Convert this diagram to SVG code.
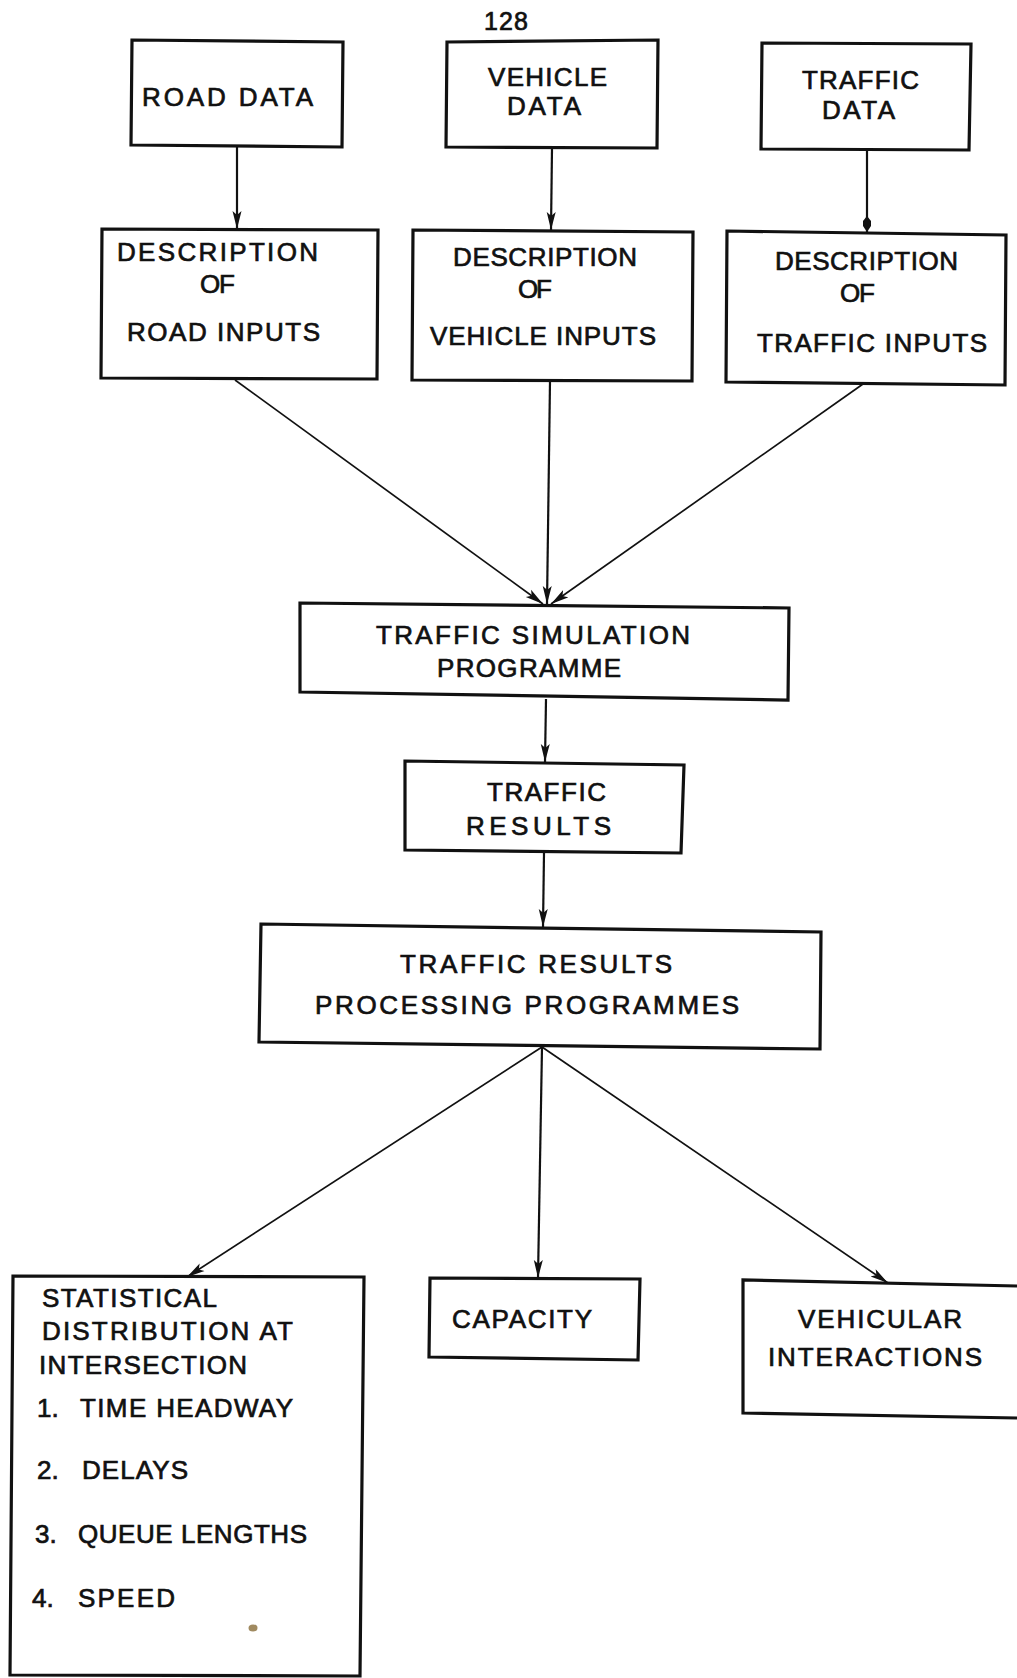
<svg xmlns="http://www.w3.org/2000/svg" width="1017" height="1678" viewBox="0 0 1017 1678">
  <defs>
    <style>
      .box { fill: none; stroke: #111; stroke-width: 3.2; stroke-linejoin: miter; }
      .lbl { font-family: "Liberation Sans", Arial, sans-serif; font-size: 26px; fill: #111; stroke: #111; stroke-width: 0.7; }
      .num { font-size: 25px; }
      .wire { fill: none; stroke: #111; stroke-width: 2.2; }
      .diag { fill: none; stroke: #111; stroke-width: 1.7; }
    </style>
    <marker id="arrow" markerUnits="userSpaceOnUse" markerWidth="20" markerHeight="12" refX="18" refY="5" orient="auto">
      <path d="M0,0.5 L18,5 L0,9.5 L4,5 z" fill="#111"/>
    </marker>
    <marker id="blob" markerUnits="userSpaceOnUse" markerWidth="18" markerHeight="12" refX="16" refY="5" orient="auto">
      <path d="M0,5 L5,1 L10,1 L16,5 L10,9 L5,9 z" fill="#111"/>
    </marker>
  </defs>
  <rect width="1017" height="1678" fill="#ffffff"/>

  <!-- page number -->
  <text class="lbl num" x="484" y="30" textLength="44" lengthAdjust="spacing">128</text>

  <!-- data sources -->
  <g id="road-data">
    <polygon class="box" points="132,40 343,42 342,147 131,145"/>
    <text class="lbl" x="142" y="106" textLength="171" lengthAdjust="spacing">ROAD DATA</text>
  </g>
  <g id="vehicle-data">
    <polygon class="box" points="447,42 658,40 657,148 446,147"/>
    <text class="lbl" x="488" y="86" textLength="119" lengthAdjust="spacing">VEHICLE</text>
    <text class="lbl" x="507" y="115" textLength="74" lengthAdjust="spacing">DATA</text>
  </g>
  <g id="traffic-data">
    <polygon class="box" points="762,43 971,44 969,150 761,149"/>
    <text class="lbl" x="802" y="89" textLength="117" lengthAdjust="spacing">TRAFFIC</text>
    <text class="lbl" x="822" y="119" textLength="73" lengthAdjust="spacing">DATA</text>
  </g>

  <!-- input descriptions -->
  <g id="road-inputs">
    <polygon class="box" points="102,229 378,230 377,379 101,378"/>
    <text class="lbl" x="117" y="261" textLength="201" lengthAdjust="spacing">DESCRIPTION</text>
    <text class="lbl" x="200" y="293" textLength="35" lengthAdjust="spacing">OF</text>
    <text class="lbl" x="127" y="341" textLength="193" lengthAdjust="spacing">ROAD INPUTS</text>
  </g>
  <g id="vehicle-inputs">
    <polygon class="box" points="413,230 693,232 692,381 412,380"/>
    <text class="lbl" x="453" y="266" textLength="184" lengthAdjust="spacing">DESCRIPTION</text>
    <text class="lbl" x="518" y="298" textLength="34" lengthAdjust="spacing">OF</text>
    <text class="lbl" x="430" y="345" textLength="226" lengthAdjust="spacing">VEHICLE INPUTS</text>
  </g>
  <g id="traffic-inputs">
    <polygon class="box" points="727,231 1006,235 1005,385 726,382"/>
    <text class="lbl" x="775" y="270" textLength="183" lengthAdjust="spacing">DESCRIPTION</text>
    <text class="lbl" x="840" y="302" textLength="35" lengthAdjust="spacing">OF</text>
    <text class="lbl" x="757" y="352" textLength="230" lengthAdjust="spacing">TRAFFIC INPUTS</text>
  </g>

  <!-- simulation and results -->
  <g id="simulation">
    <polygon class="box" points="300,603 789,608 788,700 300,692"/>
    <text class="lbl" x="376" y="644" textLength="314" lengthAdjust="spacing">TRAFFIC SIMULATION</text>
    <text class="lbl" x="437" y="677" textLength="184" lengthAdjust="spacing">PROGRAMME</text>
  </g>
  <g id="traffic-results">
    <polygon class="box" points="405,761 684,765 681,853 405,850"/>
    <text class="lbl" x="487" y="801" textLength="119" lengthAdjust="spacing">TRAFFIC</text>
    <text class="lbl" x="466" y="835" textLength="145" lengthAdjust="spacing">RESULTS</text>
  </g>
  <g id="processing">
    <polygon class="box" points="261,924 821,932 820,1049 259,1042"/>
    <text class="lbl" x="400" y="973" textLength="272" lengthAdjust="spacing">TRAFFIC RESULTS</text>
    <text class="lbl" x="315" y="1014" textLength="424" lengthAdjust="spacing">PROCESSING PROGRAMMES</text>
  </g>

  <!-- outputs -->
  <g id="statistics">
    <polygon class="box" points="13,1276 364,1277 360,1676 10,1675"/>
    <text class="lbl" x="42" y="1307" textLength="175" lengthAdjust="spacing">STATISTICAL</text>
    <text class="lbl" x="42" y="1340" textLength="251" lengthAdjust="spacing">DISTRIBUTION AT</text>
    <text class="lbl" x="39" y="1374" textLength="208" lengthAdjust="spacing">INTERSECTION</text>
    <text class="lbl" x="37" y="1417">1.</text>
    <text class="lbl" x="80" y="1417" textLength="213" lengthAdjust="spacing">TIME HEADWAY</text>
    <text class="lbl" x="37" y="1479">2.</text>
    <text class="lbl" x="82" y="1479" textLength="106" lengthAdjust="spacing">DELAYS</text>
    <text class="lbl" x="35" y="1543">3.</text>
    <text class="lbl" x="78" y="1543" textLength="229" lengthAdjust="spacing">QUEUE LENGTHS</text>
    <text class="lbl" x="32" y="1607">4.</text>
    <text class="lbl" x="78" y="1607" textLength="97" lengthAdjust="spacing">SPEED</text>
    <ellipse cx="253" cy="1628" rx="4.5" ry="3.5" fill="#a08a60"/>
  </g>
  <g id="capacity">
    <polygon class="box" points="430,1278 640,1279 638,1360 429,1357"/>
    <text class="lbl" x="452" y="1328" textLength="140" lengthAdjust="spacing">CAPACITY</text>
  </g>
  <g id="interactions">
    <path class="box" d="M1017,1286 L743,1280 L743,1413 L1017,1418"/>
    <text class="lbl" x="798" y="1328" textLength="164" lengthAdjust="spacing">VEHICULAR</text>
    <text class="lbl" x="768" y="1366" textLength="214" lengthAdjust="spacing">INTERACTIONS</text>
  </g>

  <!-- connectors -->
  <g id="connectors">
    <line class="wire" x1="237" y1="147" x2="237" y2="229" marker-end="url(#arrow)"/>
    <line class="wire" x1="552" y1="148" x2="551" y2="230" marker-end="url(#arrow)"/>
    <line class="wire" x1="867" y1="150" x2="867" y2="232" marker-end="url(#blob)"/>
    <line class="diag" x1="235" y1="380" x2="543" y2="604" marker-end="url(#arrow)"/>
    <line class="wire" x1="550" y1="381" x2="547" y2="604" marker-end="url(#arrow)"/>
    <line class="diag" x1="863" y1="384" x2="551" y2="604" marker-end="url(#arrow)"/>
    <line class="wire" x1="546" y1="699" x2="545" y2="762" marker-end="url(#arrow)"/>
    <line class="wire" x1="544" y1="853" x2="543" y2="927" marker-end="url(#arrow)"/>
    <line class="diag" x1="542" y1="1047" x2="187" y2="1277" marker-end="url(#arrow)"/>
    <line class="wire" x1="542" y1="1047" x2="538" y2="1278" marker-end="url(#arrow)"/>
    <line class="diag" x1="542" y1="1047" x2="888" y2="1283" marker-end="url(#arrow)"/>
  </g>
</svg>
